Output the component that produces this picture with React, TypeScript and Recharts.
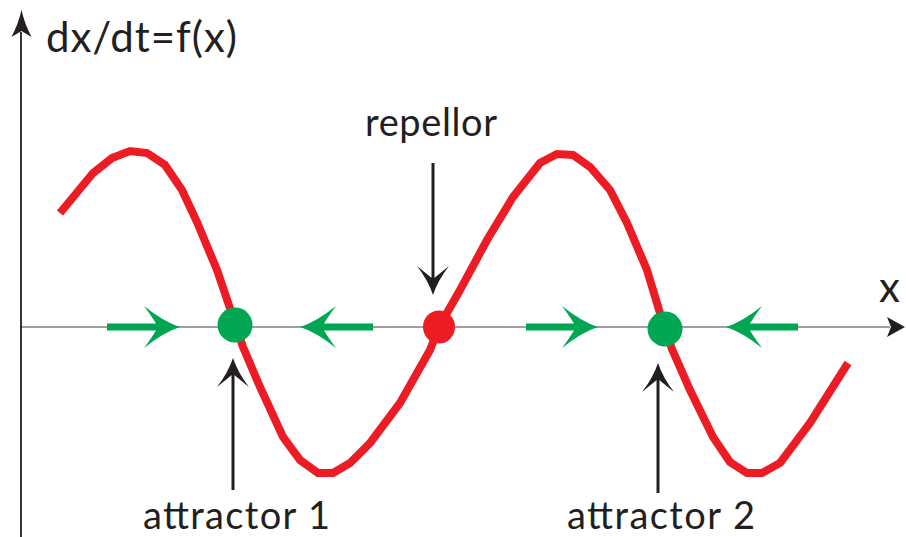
import React from "react";
import {
  ComposedChart,
  Line,
  Scatter,
  XAxis,
  YAxis,
  ReferenceLine,
  ReferenceDot
} from "recharts";

// f(x) curve (x along the axis, y = dx/dt)
const curveX = [40, 73, 92, 110, 127, 145, 162, 177, 197, 215, 223, 240, 263, 280, 298, 313, 330, 350, 380, 410, 419, 440, 467, 493, 520, 537, 553, 570, 590, 607, 627, 643, 652, 670, 693, 710, 727, 742, 760, 790, 828];
const curveY = [114, 154, 169, 176, 174, 162, 137, 105, 57, 4, -20, -60, -110, -133, -146, -146, -136, -116, -76, -23, 0, 37, 87, 130, 164, 173, 172, 160, 137, 104, 57, 4, -22, -63, -110, -135, -146, -146, -136, -96, -36];

// fixed points
const fixedX = [215, 419, 645];
const fixedY = [2, 0, -2];
const fixedKind = ["attractor", "repellor", "attractor"];

// green flow arrows: shaft start, shaft end, tip
const flowFrom = [87, 353, 506, 778];
const flowTo = [140, 300, 558, 726];
const flowTip = [160, 280, 578, 706];

// black pointer arrows
const pointerX = [413, 213, 638];
const pointerFrom = [164, -163, -166];
const pointerTo = [45, -44, -50];
const pointerTip = [32, -31, -36];

const labels = ["repellor", "attractor 1", "attractor 2"];
const labelX = [345, 123, 547];
const labelY = [191, -202, -202];
const labelWidth = [132, 187, 188];

const RED = "#ed1c24";
const GREEN = "#00a651";
const INK = "#231f20";
const FONT = "Lato, 'Open Sans', sans-serif";

const curve = curveX.map((x, i) => ({ x, y: curveY[i] }));
const fixedPts = fixedX.map((x, i) => ({ x, y: fixedY[i], kind: fixedKind[i] }));

function greenHead(dir: number) {
  return (p: any) => {
    const { cx, cy } = p;
    const s = dir;
    const d = `M${cx},${cy} Q${cx - 16 * s},${cy - 5} ${cx - 36 * s},${cy - 21} Q${cx - 27 * s},${cy - 9} ${cx - 22 * s},${cy} Q${cx - 27 * s},${cy + 9} ${cx - 36 * s},${cy + 21} Q${cx - 16 * s},${cy + 5} ${cx},${cy} Z`;
    return <path d={d} fill={GREEN} />;
  };
}

function blackHead(dir: number, len: number, half: number, notch: number) {
  // dir: 1 = points down, -1 = points up, 2 = points right
  return (p: any) => {
    const { cx, cy } = p;
    let d: string;
    if (dir === 2) {
      d = `M${cx},${cy} L${cx - len},${cy - half} L${cx - len + notch},${cy} L${cx - len},${cy + half} Z`;
    } else {
      const s = dir;
      d = `M${cx},${cy} Q${cx - half * 0.3},${cy - len * 0.5 * s} ${cx - half},${cy - len * s} L${cx},${cy - (len - notch) * s} L${cx + half},${cy - len * s} Q${cx + half * 0.3},${cy - len * 0.5 * s} ${cx},${cy} Z`;
    }
    return <path d={d} fill={INK} />;
  };
}

function textShape(text: string, size: number, width?: number) {
  return (p: any) => (
    <text
      x={p.cx}
      y={p.cy}
      fontFamily={FONT}
      fontSize={size}
      fill={INK}
      textAnchor="start"
      textLength={width}
      lengthAdjust={width ? "spacing" : undefined}
    >
      {text}
    </text>
  );
}

export default function App() {
  return (
    <div style={{ position: "absolute", left: 0, top: 0, background: "#fff" }}>
      <ComposedChart width={906} height={537} margin={{ top: 0, right: 0, bottom: 0, left: 0 }}>
        <XAxis type="number" dataKey="x" domain={[-20, 886]} allowDataOverflow hide />
        <YAxis type="number" dataKey="y" domain={[-210, 327]} allowDataOverflow hide />

        {/* axes */}
        <ReferenceLine
          segment={[{ x: 0, y: 0 }, { x: 870, y: 0 }]}
          stroke="#808080"
          strokeWidth={1.6}
          ifOverflow="visible"
        />
        <ReferenceDot x={885} y={0} r={0} ifOverflow="visible" shape={blackHead(2, 18, 10, 4)} />
        <ReferenceLine
          segment={[{ x: 1, y: -215 }, { x: 1, y: 295 }]}
          stroke={INK}
          strokeWidth={1.8}
          ifOverflow="visible"
        />
        <ReferenceDot x={1.5} y={317} r={0} ifOverflow="visible" shape={blackHead(-1, 27, 10, 6)} />

        {/* curve */}
        <Line
          data={curve}
          dataKey="y"
          type="linear"
          stroke={RED}
          strokeWidth={8}
          dot={false}
          activeDot={false}
          isAnimationActive={false}
        />

        {/* flow arrows */}
        {flowFrom.map((f, i) => (
          <ReferenceLine
            key={`fs${i}`}
            segment={[{ x: f, y: 0 }, { x: flowTo[i], y: 0 }]}
            stroke={GREEN}
            strokeWidth={7}
            ifOverflow="visible"
          />
        ))}
        {flowTip.map((t, i) => (
          <ReferenceDot
            key={`fh${i}`}
            x={t}
            y={0}
            r={0}
            ifOverflow="visible"
            shape={greenHead(flowTo[i] > flowFrom[i] ? 1 : -1)}
          />
        ))}

        {/* fixed points */}
        <Scatter
          data={fixedPts}
          isAnimationActive={false}
          shape={(p: any) => (
            <ellipse
              cx={p.cx}
              cy={p.cy}
              rx={p.payload.kind === "repellor" ? 16 : 17.5}
              ry={p.payload.kind === "repellor" ? 16.5 : 17.5}
              fill={p.payload.kind === "repellor" ? RED : GREEN}
            />
          )}
        />

        {/* pointer arrows */}
        {pointerX.map((x, i) => (
          <ReferenceLine
            key={`ps${i}`}
            segment={[{ x, y: pointerFrom[i] }, { x, y: pointerTo[i] }]}
            stroke={INK}
            strokeWidth={3}
            ifOverflow="visible"
          />
        ))}
        {pointerX.map((x, i) => (
          <ReferenceDot
            key={`ph${i}`}
            x={x}
            y={pointerTip[i]}
            r={0}
            ifOverflow="visible"
            shape={blackHead(pointerTo[i] < pointerFrom[i] ? 1 : -1, 29, 16, 13)}
          />
        ))}

        {/* text */}
        <ReferenceDot x={26} y={275} r={0} ifOverflow="visible" shape={textShape("dx/dt=f(x)", 42, 191)} />
        <ReferenceDot x={859} y={25} r={0} ifOverflow="visible" shape={textShape("x", 42)} />
        {labels.map((l, i) => (
          <ReferenceDot
            key={`l${i}`}
            x={labelX[i]}
            y={labelY[i]}
            r={0}
            ifOverflow="visible"
            shape={textShape(l, 38, labelWidth[i])}
          />
        ))}
      </ComposedChart>
    </div>
  );
}
